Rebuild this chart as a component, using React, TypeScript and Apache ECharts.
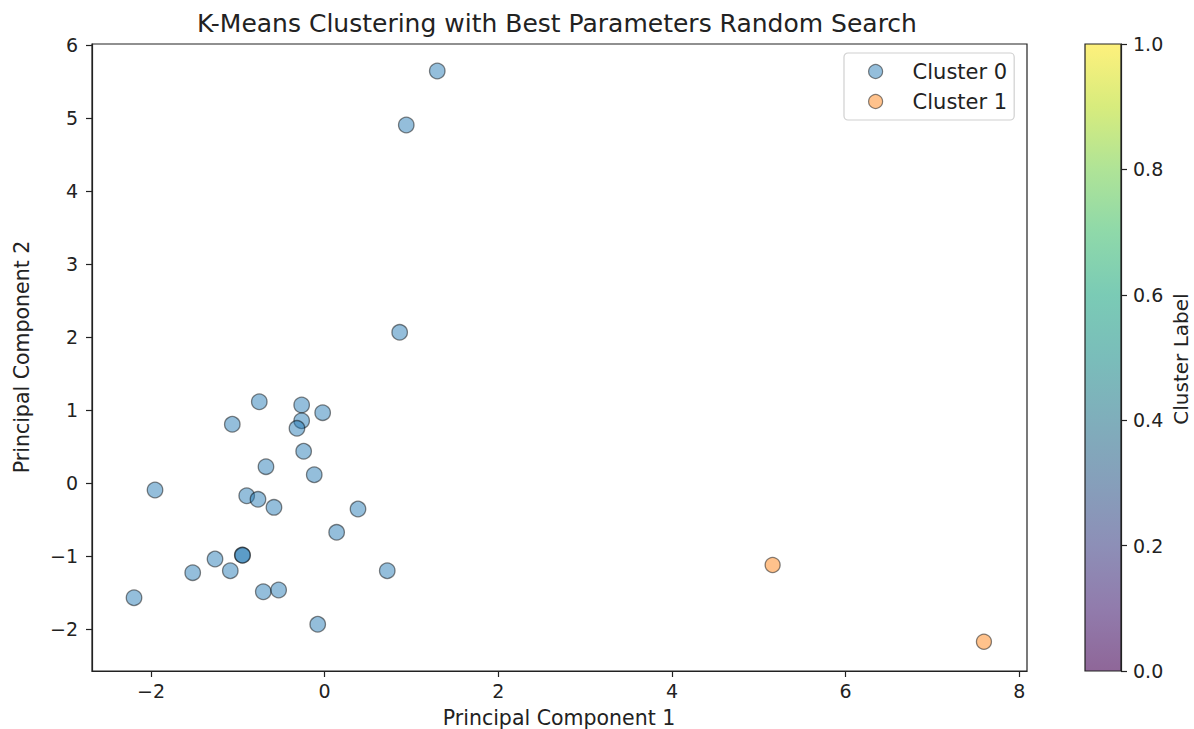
import React, { useEffect, useRef } from "react";
import * as echarts from "echarts";

// ---- Data ----
const cluster0X = [-0.753, -0.265, -0.023, -1.064, -0.265, -0.319, -0.242, -0.676, -0.12, -1.954, -0.898, -0.768, -0.584, 0.384, 0.138, -0.949, -0.945, -1.263, -1.52, -1.087, 0.721, -2.196, -0.707, -0.53, -0.08, 1.297, 0.94, 0.864];
const cluster0Y = [1.119, 1.074, 0.969, 0.81, 0.859, 0.755, 0.44, 0.229, 0.119, -0.09, -0.169, -0.218, -0.328, -0.351, -0.67, -0.981, -0.985, -1.036, -1.223, -1.196, -1.196, -1.566, -1.484, -1.46, -1.93, 5.65, 4.91, 2.07];
const cluster1X = [5.16, 7.594];
const cluster1Y = [-1.118, -2.169];

const seriesNames = ["Cluster 0", "Cluster 1"];
const xTicks = [-2, 0, 2, 4, 6, 8];
const yTicks = [-2, -1, 0, 1, 2, 3, 4, 5, 6];
const cbarTicks = [0, 0.2, 0.4, 0.6, 0.8, 1.0];
const viridis = ["#440154", "#482475", "#414487", "#355f8d", "#2a788e", "#21918c", "#22a884", "#44bf70", "#7ad151", "#bddf26", "#fde725"];

const titleText = "K-Means Clustering with Best Parameters Random Search";
const xLabel = "Principal Component 1";
const yLabel = "Principal Component 2";
const cbarLabel = "Cluster Label";

const FONT = '"DejaVu Sans", Verdana, sans-serif';
const INK = "#222";

const fmt = (v: number) => (v < 0 ? "\u2212" + Math.abs(v) : String(v));

function hexToRgba(hex: string, a: number) {
  const n = parseInt(hex.slice(1), 16);
  return `rgba(${(n >> 16) & 255},${(n >> 8) & 255},${n & 255},${a})`;
}

export default function App() {
  const ref = useRef<HTMLDivElement>(null);

  useEffect(() => {
    if (!ref.current) return;
    const chart = echarts.init(ref.current, null, { renderer: "svg" });

    const gradient = {
      type: "linear",
      x: 0,
      y: 1,
      x2: 0,
      y2: 0,
      colorStops: viridis.map((c, i) => ({ offset: i / (viridis.length - 1), color: hexToRgba(c, 0.6) })),
    };

    const axisLineStyle = { color: INK, width: 1.2 };

    chart.setOption({
      animation: false,
      backgroundColor: "#fff",
      grid: [
        { left: 92, top: 44, width: 935, height: 627, show: true, borderColor: INK, borderWidth: 1.2, backgroundColor: "transparent" },
        { left: 1085, top: 44, width: 36, height: 627, show: true, borderColor: INK, borderWidth: 1.2, backgroundColor: gradient },
      ],
      xAxis: [
        {
          type: "value",
          gridIndex: 0,
          min: -2.68,
          max: 8.09,
          axisLine: { show: true, onZero: false, lineStyle: axisLineStyle },
          axisTick: { show: true, length: 6, lineStyle: axisLineStyle, customValues: xTicks },
          axisLabel: { customValues: xTicks, formatter: fmt, fontSize: 19, fontFamily: FONT, color: INK, margin: 10 },
          splitLine: { show: false },
        },
        { type: "value", gridIndex: 1, min: 0, max: 1, show: false },
      ],
      yAxis: [
        {
          type: "value",
          gridIndex: 0,
          min: -2.57,
          max: 6.02,
          axisLine: { show: true, onZero: false, lineStyle: axisLineStyle },
          axisTick: { show: true, length: 6, lineStyle: axisLineStyle, customValues: yTicks },
          axisLabel: { customValues: yTicks, formatter: fmt, fontSize: 19, fontFamily: FONT, color: INK, margin: 14 },
          splitLine: { show: false },
        },
        {
          type: "value",
          gridIndex: 1,
          position: "right",
          min: 0,
          max: 1,
          axisLine: { show: true, onZero: false, lineStyle: axisLineStyle },
          axisTick: { show: true, length: 6, lineStyle: axisLineStyle, customValues: cbarTicks },
          axisLabel: { customValues: cbarTicks, formatter: (v: number) => v.toFixed(1), fontSize: 19, fontFamily: FONT, color: INK, margin: 12 },
          splitLine: { show: false },
        },
      ],
      legend: {
        data: seriesNames,
        orient: "vertical",
        left: 844,
        top: 53,
        icon: "circle",
        itemWidth: 14,
        itemHeight: 14,
        itemGap: 9,
        padding: [8, 7, 8, 24],
        backgroundColor: "#fff",
        borderColor: "#d0d0d0",
        borderWidth: 1.2,
        borderRadius: 4,
        selectedMode: false,
        itemStyle: { borderColor: "rgba(0,0,0,0.6)", borderWidth: 1.2 },
        textStyle: { fontSize: 21, fontFamily: FONT, color: INK, lineHeight: 20, padding: [0, 0, 0, 25] },
      },
      series: [
        {
          name: seriesNames[0],
          type: "scatter",
          xAxisIndex: 0,
          yAxisIndex: 0,
          symbol: "circle",
          symbolSize: 15.5,
          itemStyle: { color: "rgba(31,119,180,0.6)", borderColor: "rgba(0,0,0,0.6)", borderWidth: 1.3 },
          data: cluster0X.map((x, i) => [x, cluster0Y[i]]),
        },
        {
          name: seriesNames[1],
          type: "scatter",
          xAxisIndex: 0,
          yAxisIndex: 0,
          symbol: "circle",
          symbolSize: 15,
          itemStyle: { color: "rgba(255,127,14,0.6)", borderColor: "rgba(0,0,0,0.6)", borderWidth: 1.3 },
          data: cluster1X.map((x, i) => [x, cluster1Y[i]]),
        },
      ],
      graphic: [
        {
          type: "text",
          x: 557,
          y: 23.5,
          style: { text: titleText, fontSize: 25, fontFamily: FONT, fill: INK, align: "center", verticalAlign: "middle" },
        },
        {
          type: "text",
          x: 559,
          y: 718,
          style: { text: xLabel, fontSize: 20.5, fontFamily: FONT, fill: INK, align: "center", verticalAlign: "middle" },
        },
        {
          type: "text",
          x: 21.5,
          y: 357,
          rotation: Math.PI / 2,
          style: { text: yLabel, fontSize: 20.5, fontFamily: FONT, fill: INK, align: "center", verticalAlign: "middle" },
        },
        {
          type: "text",
          x: 1181,
          y: 359,
          rotation: Math.PI / 2,
          style: { text: cbarLabel, fontSize: 20, fontFamily: FONT, fill: INK, align: "center", verticalAlign: "middle" },
        },
      ],
    });

    return () => chart.dispose();
  }, []);

  return <div ref={ref} style={{ position: "fixed", left: 0, top: 0, width: 1194, height: 729 }} />;
}
